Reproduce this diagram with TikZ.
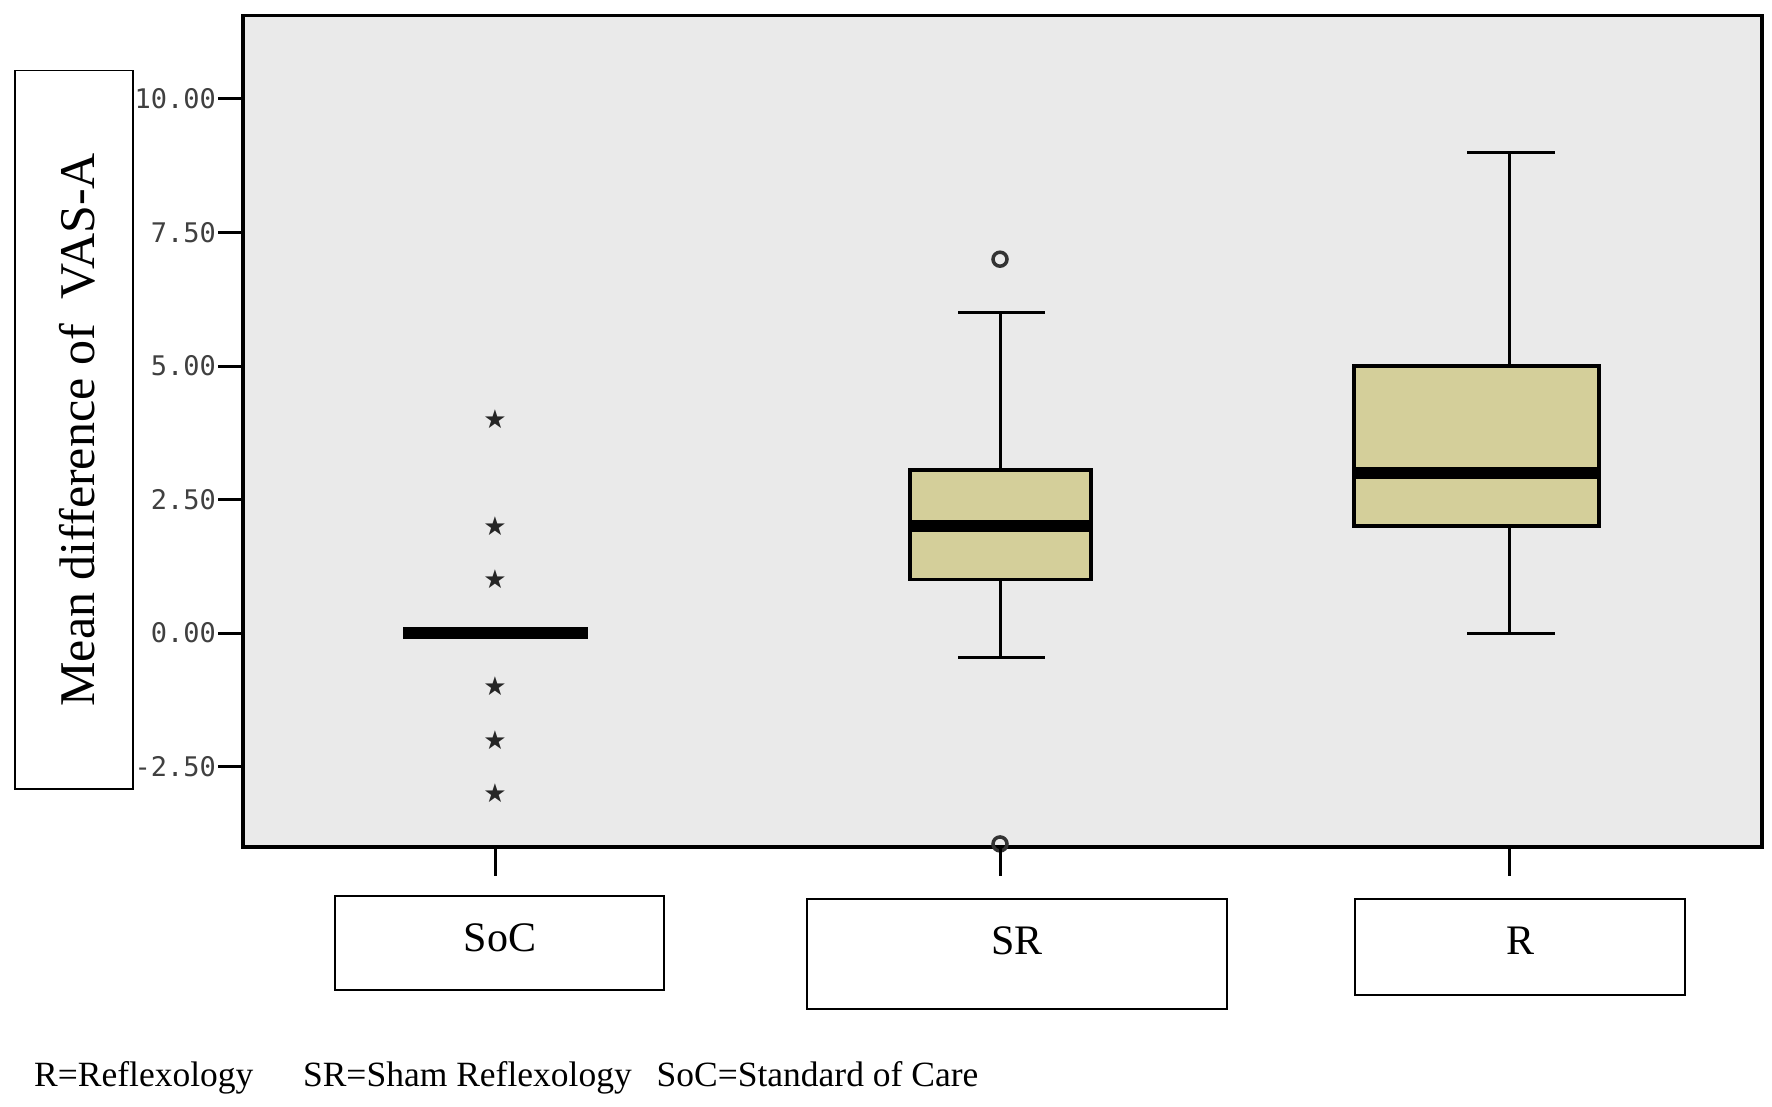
\documentclass[tikz,border=0pt]{standalone}
\usepackage{fontspec}
\setmainfont{Liberation Serif}
\newfontfamily\tickfont{DejaVu Sans Mono}
\newfontfamily\symfont{DejaVu Sans}
\begin{document}
\begin{tikzpicture}[x=1pt,y=-1pt,
  frame/.style={draw=black,line width=3.5pt},
  whisk/.style={draw=black,line width=3pt},
  bx/.style={draw=black,line width=3.5pt,fill=boxfill},
  med/.style={line width=12pt},
  lab/.style={draw=black,line width=1.5pt,fill=white},
  tick/.style={font=\tickfont\fontsize{27}{27}\selectfont,text=black!75,anchor=east,inner sep=0pt},
  star/.style={font=\symfont\fontsize{26}{26}\selectfont,inner sep=0pt,text=black!85},
  outl/.style={draw=black!80,line width=3.5pt,fill=none},
  cat/.style={font=\fontsize{42}{42}\selectfont,inner sep=0pt}]
\definecolor{boxfill}{HTML}{D4CF9A}
\definecolor{bg}{HTML}{EAEAEA}
\useasboundingbox (0,0) rectangle (1772,1107);
\fill[white] (0,0) rectangle (1772,1107);
\def\yv#1{633-53.4*(#1)}
\node[frame,fill=bg,minimum width=1519pt,minimum height=831pt,anchor=north west,inner sep=0pt] (plot) at (241,14) {};
% y ticks
\foreach \v/\t in {10/10.00,7.5/7.50,5/5.00,2.5/2.50,0/0.00,-2.5/-2.50}{
  \draw[line width=3pt] (218,{\yv{\v}}) -- (241,{\yv{\v}});
  \node[tick] at (216,{\yv{\v}}) {\t};
}
\node[lab,minimum width=118pt,minimum height=718pt,anchor=north west,inner sep=0pt] (ylab) at (14,70) {};
\node[rotate=90,font=\fontsize{50}{50}\selectfont] at ([xshift=4pt]ylab.center) {Mean difference of\ \ VAS-A};
% SoC
\draw[med] (403,{\yv{0}}) -- (588,{\yv{0}});
\foreach \v in {4,2,1,-1,-2,-3}{ \node[star] at (495,{\yv{\v}}) {★}; }
% SR
\draw[whisk] (1000,{\yv{3}}) -- (1000,{\yv{6}}); \draw[whisk] (958,{\yv{6}}) -- (1045,{\yv{6}});
\draw[whisk] (1000,{\yv{1}}) -- (1000,{\yv{-0.45}}); \draw[whisk] (958,{\yv{-0.45}}) -- (1045,{\yv{-0.45}});
\draw[bx] (910,{\yv{1}}) rectangle (1091,{\yv{3.05}});
\draw[med] (910,{\yv{2}}) -- (1091,{\yv{2}});
\draw[outl] (1000,{\yv{7}}) circle (7);
\draw[outl] (1000,{\yv{-3.95}}) circle (7);
% R
\draw[whisk] (1509,{\yv{5}}) -- (1509,{\yv{9}}); \draw[whisk] (1467,{\yv{9}}) -- (1555,{\yv{9}});
\draw[whisk] (1509,{\yv{2}}) -- (1509,{\yv{0}}); \draw[whisk] (1467,{\yv{0}}) -- (1555,{\yv{0}});
\draw[bx] (1354,{\yv{2}}) rectangle (1599,{\yv{5}});
\draw[med] (1354,{\yv{3}}) -- (1599,{\yv{3}});
% x ticks
\foreach \x in {495,1000,1509}{ \draw[line width=3pt] (\x,845) -- (\x,876); }
% category labels
\node[lab,minimum width=329pt,minimum height=94pt,anchor=north west,inner sep=0pt] (soc) at (334,895) {};
\node[cat] at (500,938) {SoC};
\node[lab,minimum width=420pt,minimum height=110pt,anchor=north west,inner sep=0pt] (sr) at (806,898) {};
\node[cat] at (1017,941) {SR};
\node[lab,minimum width=330pt,minimum height=96pt,anchor=north west,inner sep=0pt] (r) at (1354,898) {};
\node[cat] at (1520,941) {R};
\node[anchor=west,inner sep=0pt,font=\fontsize{35.5}{35.5}\selectfont] (note) at (34,1078) {R=Reflexology\hspace{1.4em}SR=Sham Reflexology\hspace{0.7em}SoC=Standard of Care};
\end{tikzpicture}
\end{document}
